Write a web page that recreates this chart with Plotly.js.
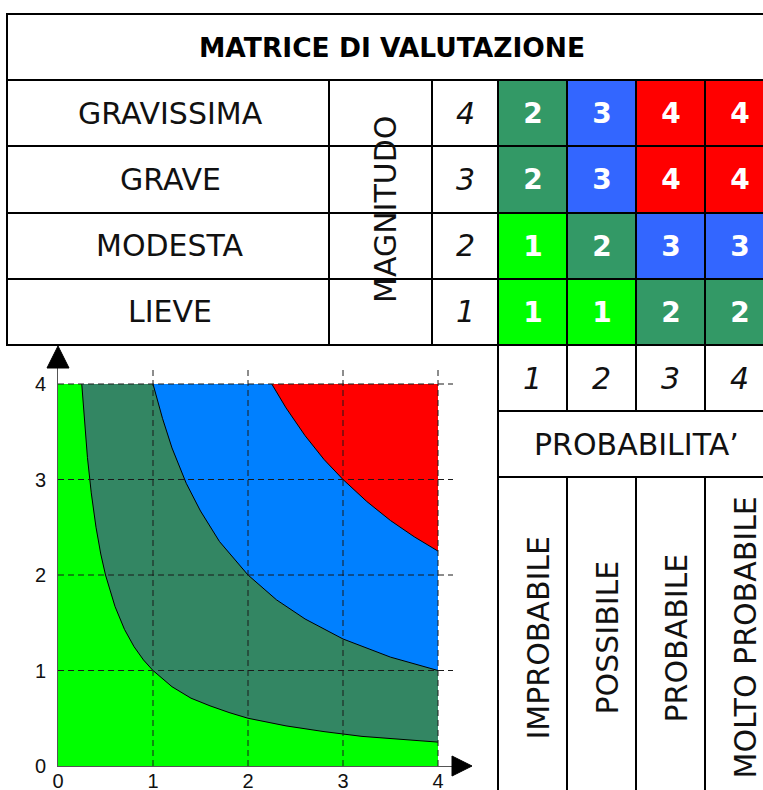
<!DOCTYPE html>
<html>
<head>
<meta charset="utf-8">
<script src="https://cdn.plot.ly/plotly-3.0.1.min.js"></script>
<style>
html,body{margin:0;padding:0;background:#ffffff;}
#chart{width:763px;height:790px;}
</style>
</head>
<body>
<div id="chart"></div>
<script>
// ---------------- DATA ----------------
const chartTitle = 'MATRICE DI VALUTAZIONE';
const magnitudoLabel = 'MAGNITUDO';
const probabilityLabel = "PROBABILITA\u2019";
const magnitudoLevels = [1, 2, 3, 4];
const severityLabels = ['LIEVE', 'MODESTA', 'GRAVE', 'GRAVISSIMA'];
const probabilityLevels = [1, 2, 3, 4];
const probabilityLabels = ['IMPROBABILE', 'POSSIBILE', 'PROBABILE', 'MOLTO PROBABILE'];
// rows = magnitudo 1..4, columns = probabilita 1..4
const riskMatrix = [
  [1, 1, 2, 2],
  [1, 2, 3, 3],
  [2, 3, 4, 4],
  [2, 3, 4, 4]
];
const matrixColors = ['#00ff00', '#339966', '#3366ff', '#ff0000'];
const areaColors = ['#00ff00', '#338663', '#0080ff', '#ff0000'];
// iso-risk boundary curves
const curve1X = [0.25, 0.28, 0.31, 0.35, 0.4, 0.45, 0.5, 0.6, 0.7, 0.8, 0.9, 1, 1.2, 1.4, 1.6, 1.8, 2, 2.4, 2.8, 3.2, 3.6, 4];
const curve1Y = [4, 3.57, 3.23, 2.86, 2.5, 2.22, 2, 1.67, 1.43, 1.25, 1.11, 1, 0.83, 0.71, 0.63, 0.56, 0.5, 0.42, 0.36, 0.31, 0.28, 0.25];
const curve2X = [1, 1.1, 1.2, 1.35, 1.5, 1.7, 2, 2.3, 2.6, 3, 3.5, 4];
const curve2Y = [4, 3.64, 3.33, 2.96, 2.67, 2.35, 2, 1.74, 1.54, 1.33, 1.14, 1];
const curve3X = [2.25, 2.4, 2.6, 2.8, 3, 3.25, 3.5, 3.75, 4];
const curve3Y = [4, 3.75, 3.46, 3.21, 3, 2.77, 2.57, 2.4, 2.25];
const axisTicks = [0, 1, 2, 3, 4];
const gridTicks = [1, 2, 3, 4];
const axisMax = 4;

// ---------------- LAYOUT HELPERS ----------------
const W = 763, H = 790;
const px = v => v / W;
const py = v => 1 - v / H;
const TXT = 'DejaVu Sans, Verdana, sans-serif';
const TICKF = 'Liberation Sans, Arial, sans-serif';

// main chart pixel frame
const ox = 58, oy = 766, unitX = 95, unitY = 95.5;
const xEnd = 453, yEnd = 367;
const xRangeMax = (xEnd - ox) / unitX;
const yRangeMax = (oy - yEnd) / unitY;

// ---------------- TRACES ----------------
const traces = [];
// base area (risk 1)
traces.push({
  type: 'scatter', mode: 'lines', xaxis: 'x', yaxis: 'y',
  x: [0, axisMax, axisMax, 0], y: [0, 0, axisMax, axisMax],
  fill: 'toself', fillcolor: areaColors[0], line: {width: 0}, hoverinfo: 'skip'
});
const curves = [[curve1X, curve1Y], [curve2X, curve2Y], [curve3X, curve3Y]];
curves.forEach((c, i) => {
  traces.push({
    type: 'scatter', mode: 'lines', xaxis: 'x', yaxis: 'y',
    x: c[0].concat([axisMax]), y: c[1].concat([axisMax]),
    fill: 'toself', fillcolor: areaColors[i + 1], line: {width: 0}, hoverinfo: 'skip'
  });
});
curves.forEach(c => {
  traces.push({
    type: 'scatter', mode: 'lines', xaxis: 'x', yaxis: 'y',
    x: c[0], y: c[1], line: {color: '#000000', width: 1}, hoverinfo: 'skip'
  });
});
// matrix heatmap
traces.push({
  type: 'heatmap', xaxis: 'x2', yaxis: 'y2',
  x: probabilityLevels, y: magnitudoLevels, z: riskMatrix,
  zmin: 1, zmax: 4, showscale: false,
  colorscale: [
    [0, matrixColors[0]], [0.1667, matrixColors[0]],
    [0.1667, matrixColors[1]], [0.5, matrixColors[1]],
    [0.5, matrixColors[2]], [0.8333, matrixColors[2]],
    [0.8333, matrixColors[3]], [1, matrixColors[3]]
  ],
  texttemplate: '%{z}',
  textfont: {family: TXT, size: 28, color: '#ffffff', weight: 'bold'},
  hoverinfo: 'skip'
});

// ---------------- SHAPES ----------------
const shapes = [];
const LW = 2;
function hline(y, x0, x1) {
  shapes.push({type: 'line', xref: 'paper', yref: 'paper', x0: px(x0), x1: px(x1), y0: py(y), y1: py(y), line: {color: '#000', width: LW}});
}
function vline(x, y0, y1) {
  shapes.push({type: 'line', xref: 'paper', yref: 'paper', x0: px(x), x1: px(x), y0: py(y0), y1: py(y1), line: {color: '#000', width: LW}});
}
hline(14, 6, 780);
hline(80, 6, 780);
hline(146, 6, 780);
hline(213, 6, 780);
hline(279, 6, 780);
hline(345, 6, 780);
hline(411, 498, 780);
hline(477, 498, 780);
vline(7, 13, 346);
vline(329, 80, 345);
vline(432, 80, 345);
vline(498, 80, 800);
[567, 636, 705].forEach(x => { vline(x, 80, 411); vline(x, 477, 800); });

// dashed grid of the lower chart (drawn above the areas)
gridTicks.forEach(t => {
  shapes.push({type: 'line', layer: 'above', xref: 'x', yref: 'y', x0: t, x1: t, y0: 0, y1: yRangeMax,
    line: {color: '#1a1a1a', width: 1, dash: '6px,4px'}});
  shapes.push({type: 'line', layer: 'above', xref: 'x', yref: 'y', x0: 0, x1: xRangeMax, y0: t, y1: t,
    line: {color: '#1a1a1a', width: 1, dash: '6px,4px'}});
});
// axis arrow heads
shapes.push({type: 'path', xref: 'paper', yref: 'paper', layer: 'above',
  path: `M ${px(58)} ${py(346)} L ${px(47)} ${py(368)} L ${px(69)} ${py(368)} Z`,
  fillcolor: '#000', line: {color: '#000', width: 1}});
shapes.push({type: 'path', xref: 'paper', yref: 'paper', layer: 'above',
  path: `M ${px(472)} ${py(766)} L ${px(452)} ${py(756)} L ${px(452)} ${py(776)} Z`,
  fillcolor: '#000', line: {color: '#000', width: 1}});

// ---------------- ANNOTATIONS ----------------
const ann = [];
const base = {showarrow: false, xanchor: 'center', yanchor: 'middle'};
const FS = 30;
ann.push(Object.assign({}, base, {xref: 'paper', yref: 'paper', x: px(392), y: py(48), text: chartTitle,
  font: {family: TXT, size: 26.5, color: '#000', weight: 'bold'}}));
severityLabels.forEach((s, i) => {
  ann.push(Object.assign({}, base, {xref: 'paper', yref: 'y2', x: px(170), y: magnitudoLevels[i], text: s,
    font: {family: TXT, size: FS, color: '#111'}}));
  ann.push(Object.assign({}, base, {xref: 'paper', yref: 'y2', x: px(465), y: magnitudoLevels[i], text: String(magnitudoLevels[i]),
    font: {family: TXT, size: FS, color: '#111', style: 'italic'}}));
});
ann.push(Object.assign({}, base, {xref: 'paper', yref: 'paper', x: px(386), y: py(210), text: magnitudoLabel, textangle: -90,
  font: {family: TXT, size: FS, color: '#111'}}));
probabilityLevels.forEach((p, i) => {
  ann.push(Object.assign({}, base, {xref: 'x2', yref: 'paper', x: p, y: py(378), text: String(p),
    font: {family: TXT, size: FS, color: '#111', style: 'italic'}}));
  ann.push(Object.assign({}, base, {xref: 'x2', yref: 'paper', x: p, y: py(638), text: probabilityLabels[i], textangle: -90,
    xshift: 5, font: {family: TXT, size: FS, color: '#111'}}));
});
ann.push(Object.assign({}, base, {xref: 'paper', yref: 'paper', x: px(636), y: py(444), text: probabilityLabel,
  font: {family: TXT, size: FS, color: '#111'}}));

// ---------------- LAYOUT ----------------
const layout = {
  width: W, height: H,
  margin: {l: 0, r: 0, t: 0, b: 0, pad: 0},
  paper_bgcolor: '#ffffff', plot_bgcolor: 'rgba(0,0,0,0)',
  showlegend: false,
  xaxis: {domain: [px(ox), px(xEnd)], range: [0, xRangeMax], anchor: 'y',
    tickvals: axisTicks, ticks: '', ticklabelstandoff: -3, showgrid: false, zeroline: false,
    showline: true, linecolor: '#555', linewidth: 1,
    tickfont: {family: TICKF, size: 20, color: '#111'}, fixedrange: true},
  yaxis: {domain: [py(oy), py(yEnd)], range: [0, yRangeMax], anchor: 'x',
    tickvals: axisTicks, ticks: '', ticklabelstandoff: 7, showgrid: false, zeroline: false,
    showline: true, linecolor: '#555', linewidth: 1,
    tickfont: {family: TICKF, size: 20, color: '#111'}, fixedrange: true},
  xaxis2: {domain: [px(498), 1], range: [0.5, 0.5 + (W - 498) / 69], anchor: 'y2',
    showticklabels: false, showgrid: false, zeroline: false, showline: false, ticks: '', fixedrange: true},
  yaxis2: {domain: [py(345), py(80)], range: [0.5, 4.5], anchor: 'x2',
    showticklabels: false, showgrid: false, zeroline: false, showline: false, ticks: '', fixedrange: true},
  shapes: shapes,
  annotations: ann
};

Plotly.newPlot('chart', traces, layout, {staticPlot: true, displayModeBar: false});
</script>
</body>
</html>
